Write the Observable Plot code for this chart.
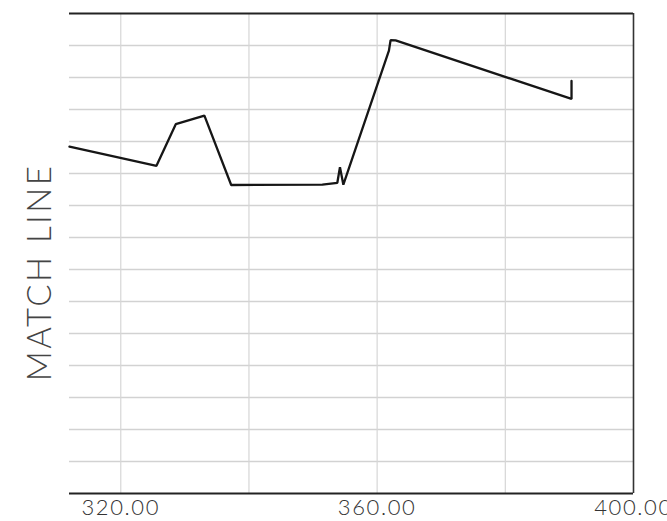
<!DOCTYPE html>
<html>
<head>
<meta charset="utf-8">
<script src="https://cdn.jsdelivr.net/npm/d3@7"></script>
<script src="https://cdn.jsdelivr.net/npm/@observablehq/plot@0.6"></script>
<style>
  html, body { margin: 0; padding: 0; background: #ffffff; }
  #chart { width: 667px; height: 521px; overflow: hidden; }
</style>
</head>
<body>
<div id="chart"></div>
<script>
// Station (x) and elevation (y, grid units) of the profile line
const stations = [312.0, 325.57, 328.58, 333.05, 337.23, 351.45, 353.79, 354.20, 354.73, 361.84, 362.10, 362.88, 390.33, 390.33];
const elevations = [10.84, 10.24, 11.54, 11.81, 9.64, 9.65, 9.71, 10.20, 9.65, 13.84, 14.17, 14.16, 12.33, 12.89];

const xTicks = [320, 360, 400];
const xGrid = [320, 340, 360, 380];
const yGrid = [1, 2, 3, 4, 5, 6, 7, 8, 9, 10, 11, 12, 13, 14];
const xDomain = [312, 400];
const yDomain = [0, 15];
const yLabel = "MATCH LINE";

const profile = stations.map((s, i) => ({station: s, elev: elevations[i]}));

const chart = Plot.plot({
  width: 667,
  height: 521,
  marginLeft: 69,
  marginRight: 34,
  marginTop: 13,
  marginBottom: 28,
  style: {fontFamily: "Lato, 'DejaVu Sans', sans-serif", color: "#333", background: "#fff", overflow: "visible"},
  x: {domain: xDomain},
  y: {domain: yDomain, axis: null},
  marks: [
    Plot.gridY(yGrid, {stroke: "#d2d2d2", strokeOpacity: 1, strokeWidth: 1.3}),
    Plot.gridX(xGrid, {stroke: "#d6d6d6", strokeOpacity: 1, strokeWidth: 1.2}),
    Plot.ruleY([yDomain[0]], {stroke: "#222", strokeWidth: 2}),
    Plot.ruleY([yDomain[1]], {stroke: "#222", strokeWidth: 1.8}),
    Plot.ruleX([xDomain[1]], {stroke: "#333", strokeWidth: 1.6}),
    Plot.line(profile, {x: "station", y: "elev", stroke: "#161616", strokeWidth: 2.3, strokeLinejoin: "miter"}),
    Plot.axisX(xTicks, {
      tickSize: 0,
      tickPadding: 6,
      tickFormat: d => d.toFixed(2),
      fontSize: 22,
      fontWeight: 300,
      fill: "#333",
      label: null
    }),
    Plot.text([yLabel], {
      frameAnchor: "left",
      textAnchor: "middle",
      dx: -29,
      dy: 19,
      rotate: -90,
      fontSize: 33,
      fontWeight: 300,
      fill: "#444",
      text: d => d
    })
  ]
});
chart.querySelectorAll("text").forEach(t => t.setAttribute("letter-spacing", t.textContent === yLabel ? "2.5" : "1.6"));
document.getElementById("chart").appendChild(chart);
</script>
</body>
</html>
